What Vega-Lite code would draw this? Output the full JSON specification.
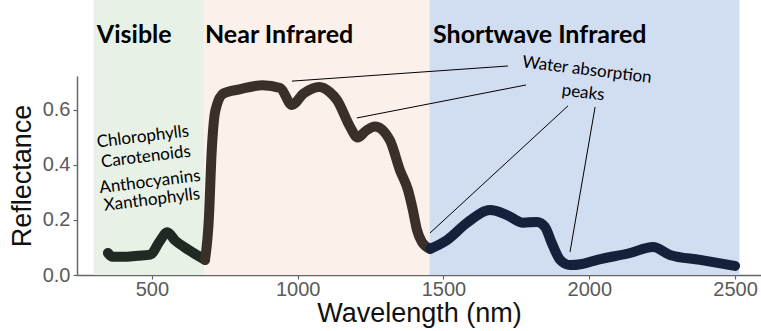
{
  "$schema": "https://vega.github.io/schema/vega-lite/v6.json",
  "width": 684,
  "height": 199,
  "autosize": {"type": "none"},
  "padding": {"left": 77, "top": 76, "right": 0, "bottom": 56},
  "background": "#ffffff",
  "config": {
    "view": {"stroke": null},
    "axis": {"grid": false, "labelFont": "Liberation Sans", "titleFont": "Liberation Sans", "labelFontSize": 20, "labelColor": "#5a5a5a", "titleFontSize": 27, "titleFontWeight": "normal", "titleColor": "#111111", "domainColor": "#666666", "domainWidth": 1.5, "tickColor": "#666666", "tickWidth": 1.2, "tickSize": 4}
  },
  "datasets": {
    "bands": [
      {"band": "Visible", "start": 300, "end": 680},
      {"band": "Near Infrared", "start": 680, "end": 1452},
      {"band": "Shortwave Infrared", "start": 1452, "end": 2515}
    ],
    "spectrum": [
      {"seg": "vis", "nm": 349, "r": 0.08},
      {"seg": "vis", "nm": 365, "r": 0.066},
      {"seg": "vis", "nm": 400, "r": 0.066},
      {"seg": "vis", "nm": 450, "r": 0.07},
      {"seg": "vis", "nm": 495, "r": 0.074},
      {"seg": "vis", "nm": 525, "r": 0.12},
      {"seg": "vis", "nm": 553, "r": 0.155},
      {"seg": "vis", "nm": 580, "r": 0.125},
      {"seg": "vis", "nm": 613, "r": 0.1},
      {"seg": "vis", "nm": 650, "r": 0.075},
      {"seg": "vis", "nm": 682, "r": 0.055},
      {"seg": "nir", "nm": 682, "r": 0.055},
      {"seg": "nir", "nm": 695, "r": 0.2},
      {"seg": "nir", "nm": 705, "r": 0.45},
      {"seg": "nir", "nm": 718, "r": 0.6},
      {"seg": "nir", "nm": 745, "r": 0.66},
      {"seg": "nir", "nm": 800, "r": 0.675},
      {"seg": "nir", "nm": 880, "r": 0.69},
      {"seg": "nir", "nm": 940, "r": 0.68},
      {"seg": "nir", "nm": 980, "r": 0.618},
      {"seg": "nir", "nm": 1020, "r": 0.66},
      {"seg": "nir", "nm": 1075, "r": 0.684},
      {"seg": "nir", "nm": 1110, "r": 0.665},
      {"seg": "nir", "nm": 1135, "r": 0.636},
      {"seg": "nir", "nm": 1179, "r": 0.54},
      {"seg": "nir", "nm": 1205, "r": 0.5},
      {"seg": "nir", "nm": 1235, "r": 0.525},
      {"seg": "nir", "nm": 1265, "r": 0.54},
      {"seg": "nir", "nm": 1316, "r": 0.49},
      {"seg": "nir", "nm": 1351, "r": 0.38},
      {"seg": "nir", "nm": 1378, "r": 0.31},
      {"seg": "nir", "nm": 1395, "r": 0.236},
      {"seg": "nir", "nm": 1409, "r": 0.164},
      {"seg": "nir", "nm": 1426, "r": 0.12},
      {"seg": "nir", "nm": 1454, "r": 0.095},
      {"seg": "swir", "nm": 1454, "r": 0.095},
      {"seg": "swir", "nm": 1512, "r": 0.127},
      {"seg": "swir", "nm": 1581, "r": 0.19},
      {"seg": "swir", "nm": 1660, "r": 0.236},
      {"seg": "swir", "nm": 1718, "r": 0.218},
      {"seg": "swir", "nm": 1773, "r": 0.19},
      {"seg": "swir", "nm": 1821, "r": 0.193},
      {"seg": "swir", "nm": 1848, "r": 0.175},
      {"seg": "swir", "nm": 1872, "r": 0.115},
      {"seg": "swir", "nm": 1900, "r": 0.055},
      {"seg": "swir", "nm": 1934, "r": 0.036},
      {"seg": "swir", "nm": 1975, "r": 0.04},
      {"seg": "swir", "nm": 2027, "r": 0.055},
      {"seg": "swir", "nm": 2140, "r": 0.08},
      {"seg": "swir", "nm": 2219, "r": 0.102},
      {"seg": "swir", "nm": 2277, "r": 0.073},
      {"seg": "swir", "nm": 2380, "r": 0.055},
      {"seg": "swir", "nm": 2500, "r": 0.033}
    ],
    "pointers": [
      {"id": 1, "nm1": 980, "r1": 0.705, "nm2": 1721, "r2": 0.76},
      {"id": 2, "nm1": 1203, "r1": 0.571, "nm2": 1783, "r2": 0.691},
      {"id": 3, "nm1": 1927, "r1": 0.615, "nm2": 1454, "r2": 0.153},
      {"id": 4, "nm1": 2020, "r1": 0.611, "nm2": 1934, "r2": 0.084}
    ],
    "headers": [
      {"label": "Visible", "nm": 311, "r": 0.873},
      {"label": "Near Infrared", "nm": 682, "r": 0.873},
      {"label": "Shortwave Infrared", "nm": 1464, "r": 0.873}
    ],
    "pigments": [
      {"label": "Chlorophylls", "nm": 469, "r": 0.502},
      {"label": "Carotenoids", "nm": 479, "r": 0.429},
      {"label": "Anthocyanins", "nm": 493, "r": 0.338},
      {"label": "Xanthophylls", "nm": 500, "r": 0.273}
    ],
    "water": [
      {"label": "Water absorption", "nm": 1992, "r": 0.745},
      {"label": "peaks", "nm": 1979, "r": 0.662}
    ]
  },
  "layer": [
    {
      "data": {"name": "bands"},
      "mark": {"type": "rect", "clip": false},
      "encoding": {
        "x": {"field": "start", "type": "quantitative", "scale": {"domain": [243, 2589], "nice": false, "zero": false},
          "axis": {"values": [500, 1000, 1500, 2000, 2500], "format": "d", "title": "Wavelength (nm)", "labelPadding": 0, "titlePadding": 1}},
        "x2": {"field": "end"},
        "y": {"datum": 0, "type": "quantitative", "scale": {"domain": [0, 0.7236], "nice": false},
          "axis": {"values": [0, 0.2, 0.4, 0.6], "format": ".1f", "title": "Reflectance", "labelPadding": 3, "titlePadding": 6}},
        "y2": {"datum": 1.0},
        "color": {"field": "band", "type": "nominal", "legend": null,
          "scale": {"domain": ["Visible", "Near Infrared", "Shortwave Infrared"], "range": ["#e8f1e6", "#fbf0ea", "#d1ddf1"]}}
      }
    },
    {
      "data": {"name": "spectrum"},
      "mark": {"type": "line", "strokeWidth": 10, "strokeCap": "round", "strokeJoin": "round", "interpolate": "monotone"},
      "encoding": {
        "x": {"field": "nm", "type": "quantitative"},
        "y": {"field": "r", "type": "quantitative"},
        "detail": {"field": "seg"},
        "stroke": {"field": "seg", "type": "nominal", "legend": null,
          "scale": {"domain": ["vis", "nir", "swir"], "range": ["#1f2b22", "#3b2f2a", "#15213a"]}}
      }
    },
    {
      "data": {"name": "pointers"},
      "mark": {"type": "rule", "color": "#000000", "strokeWidth": 1, "clip": false},
      "encoding": {
        "x": {"field": "nm1", "type": "quantitative"},
        "y": {"field": "r1", "type": "quantitative"},
        "x2": {"field": "nm2"},
        "y2": {"field": "r2"}
      }
    },
    {
      "data": {"name": "headers"},
      "mark": {"type": "text", "font": "Lato", "fontWeight": "bold", "fontSize": 25, "align": "left", "baseline": "middle", "color": "#000000"},
      "encoding": {
        "x": {"field": "nm", "type": "quantitative"},
        "y": {"field": "r", "type": "quantitative"},
        "text": {"field": "label"}
      }
    },
    {
      "data": {"name": "pigments"},
      "mark": {"type": "text", "font": "Lato", "fontSize": 17, "align": "center", "baseline": "middle", "angle": -7, "color": "#000000"},
      "encoding": {
        "x": {"field": "nm", "type": "quantitative"},
        "y": {"field": "r", "type": "quantitative"},
        "text": {"field": "label"}
      }
    },
    {
      "data": {"name": "water"},
      "mark": {"type": "text", "font": "Lato", "fontSize": 17, "align": "center", "baseline": "middle", "angle": 7, "color": "#000000"},
      "encoding": {
        "x": {"field": "nm", "type": "quantitative"},
        "y": {"field": "r", "type": "quantitative"},
        "text": {"field": "label"}
      }
    }
  ]
}
